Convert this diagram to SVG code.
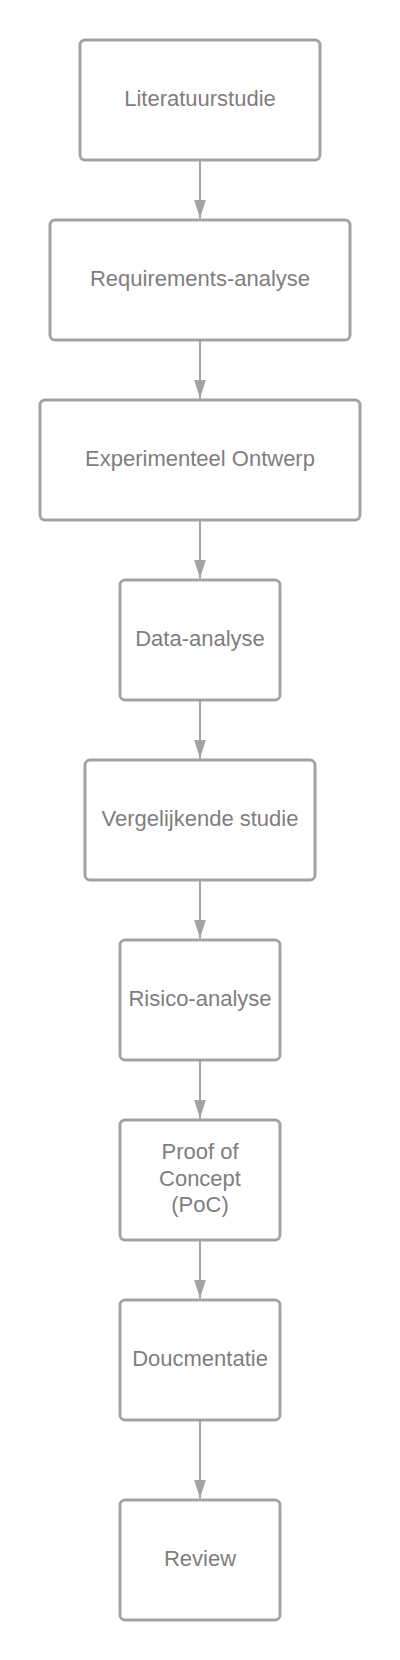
<svg xmlns="http://www.w3.org/2000/svg" width="400" height="1660" viewBox="0 0 400 1660">
<style>
.box{fill:#ffffff;stroke:#a3a3a3;stroke-width:3}
.lbl{font-family:"Liberation Sans",Arial,sans-serif;font-size:22px;fill:#7e7e7e;text-anchor:middle}
.con{stroke:#a3a3a3;stroke-width:2;fill:none}
</style>
<defs>
<marker id="ah" markerWidth="19" markerHeight="12" refX="19" refY="6" orient="auto" markerUnits="userSpaceOnUse" viewBox="0 0 19 12">
<path d="M0,0 L19,6 L0,12 Z" fill="#a3a3a3"/>
</marker>
</defs>
<rect width="400" height="1660" fill="#ffffff"/>
<g id="connectors">
<path class="con" d="M200,160 V218.5" marker-end="url(#ah)"/>
<path class="con" d="M200,340 V398.5" marker-end="url(#ah)"/>
<path class="con" d="M200,520 V578.5" marker-end="url(#ah)"/>
<path class="con" d="M200,700 V758.5" marker-end="url(#ah)"/>
<path class="con" d="M200,880 V938.5" marker-end="url(#ah)"/>
<path class="con" d="M200,1060 V1118.5" marker-end="url(#ah)"/>
<path class="con" d="M200,1240 V1298.5" marker-end="url(#ah)"/>
<path class="con" d="M200,1420 V1498.5" marker-end="url(#ah)"/>
</g>
<g id="n1"><rect class="box" x="80" y="40" width="240" height="120" rx="5"/><text class="lbl" x="200" y="105.5">Literatuurstudie</text></g>
<g id="n2"><rect class="box" x="50" y="220" width="300" height="120" rx="5"/><text class="lbl" x="200" y="285.5">Requirements-analyse</text></g>
<g id="n3"><rect class="box" x="40" y="400" width="320" height="120" rx="5"/><text class="lbl" x="200" y="465.5">Experimenteel Ontwerp</text></g>
<g id="n4"><rect class="box" x="120" y="580" width="160" height="120" rx="5"/><text class="lbl" x="200" y="645.5">Data-analyse</text></g>
<g id="n5"><rect class="box" x="85" y="760" width="230" height="120" rx="5"/><text class="lbl" x="200" y="825.5">Vergelijkende studie</text></g>
<g id="n6"><rect class="box" x="120" y="940" width="160" height="120" rx="5"/><text class="lbl" x="200" y="1005.5">Risico-analyse</text></g>
<g id="n7"><rect class="box" x="120" y="1120" width="160" height="120" rx="5"/><text class="lbl" x="200"><tspan x="200" y="1159.1">Proof of</tspan><tspan x="200" y="1185.5">Concept</tspan><tspan x="200" y="1211.9">(PoC)</tspan></text></g>
<g id="n8"><rect class="box" x="120" y="1300" width="160" height="120" rx="5"/><text class="lbl" x="200" y="1365.5">Doucmentatie</text></g>
<g id="n9"><rect class="box" x="120" y="1500" width="160" height="120" rx="5"/><text class="lbl" x="200" y="1565.5">Review</text></g>
</svg>
